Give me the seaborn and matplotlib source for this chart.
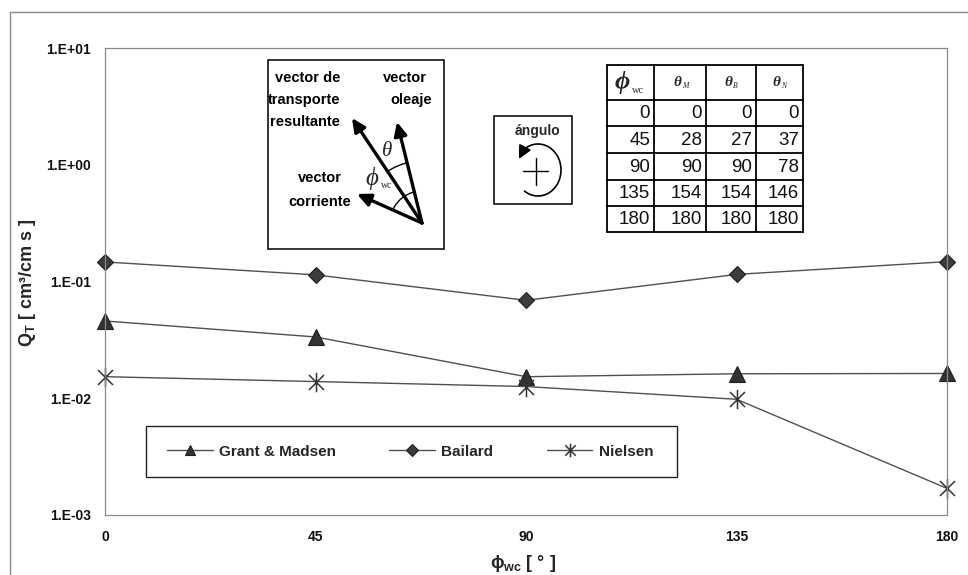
import numpy as np
import matplotlib
matplotlib.use("Agg")
import matplotlib.pyplot as plt
from matplotlib.path import Path
from matplotlib.patches import Rectangle
from matplotlib.ticker import NullLocator
import seaborn as sns

# ---- data -------------------------------------------------------------
phi_wc = [0, 45, 90, 135, 180]
grant_madsen = [0.0459, 0.0335, 0.0153, 0.0162, 0.0163]
bailard = [0.147, 0.114, 0.069, 0.115, 0.148]
nielsen = [0.0153, 0.0139, 0.0126, 0.0098, 0.00169]
series_names = ["Grant & Madsen", "Bailard", "Nielsen"]

x_ticks = [0, 45, 90, 135, 180]
y_ticks = [1e-3, 1e-2, 1e-1, 1e0, 1e1]
y_tick_labels = ["1.E-03", "1.E-02", "1.E-01", "1.E+00", "1.E+01"]

# angle table: phi_wc vs resulting theta for each model
table_phi = [0, 45, 90, 135, 180]
theta_M = [0, 28, 90, 154, 180]
theta_B = [0, 27, 90, 154, 180]
theta_N = [0, 37, 78, 146, 180]

# ---- style ------------------------------------------------------------
W, H = 968, 575
sns.set_style("white")
plt.rcParams["font.family"] = ["Liberation Sans", "DejaVu Sans"]
plt.rcParams["mathtext.fontset"] = "custom"
plt.rcParams["mathtext.rm"] = "Liberation Sans:bold"
plt.rcParams["mathtext.bf"] = "Liberation Sans:bold"
plt.rcParams["mathtext.it"] = "Liberation Sans:italic:bold"

fig = plt.figure(figsize=(W / 100, H / 100), dpi=100)


def rect_frac(x0, y0, x1, y1):
    return [x0 / W, 1 - y1 / H, (x1 - x0) / W, (y1 - y0) / H]


ax = fig.add_axes(rect_frac(105, 48, 947, 515))

# six-armed star marker (X plus a vertical stroke)
star = Path([(-1, -1), (1, 1), (-1, 1), (1, -1), (0, -1.3), (0, 1.3)],
            [Path.MOVETO, Path.LINETO] * 3)

marker_styles = {
    "Grant & Madsen": dict(marker="^", markersize=11, markerfacecolor="#333333",
                           markeredgecolor="#1e1e1e", markeredgewidth=0.8),
    "Bailard": dict(marker="D", markersize=8.5, markerfacecolor="#3c3c3c",
                    markeredgecolor="#1e1e1e", markeredgewidth=0.8),
    "Nielsen": dict(marker=star, markersize=14, markerfacecolor="none",
                    markeredgecolor="#333333", markeredgewidth=1.1),
}

for name, vals in zip(series_names, [grant_madsen, bailard, nielsen]):
    sns.lineplot(x=phi_wc, y=vals, ax=ax, color="#505050", linewidth=1.0,
                 label=name, clip_on=False, **marker_styles[name])

ax.set_yscale("log")
ax.set_xlim(0, 180)
ax.set_ylim(1e-3, 1e1)
ax.set_xticks(x_ticks, labels=[str(v) for v in x_ticks],
              fontsize=10, fontweight="bold")
ax.set_yticks(y_ticks, labels=y_tick_labels, fontsize=10, fontweight="bold")
ax.yaxis.set_minor_locator(NullLocator())
ax.tick_params(axis="both", direction="out", length=3, width=0.8,
               color="#777777", labelcolor="#111111")
ax.tick_params(axis="y", pad=7)
ax.tick_params(axis="x", pad=8)
for sp in ax.spines.values():
    sp.set_color("#8a8a8a")
    sp.set_linewidth(0.9)
ax.set_xlabel("")
ax.set_ylabel("")
handles, labels = ax.get_legend_handles_labels()
if ax.get_legend() is not None:
    ax.get_legend().remove()

# axis titles
fig.text(28 / W, 1 - 283 / H, r"Q$_{\mathrm{T}}$ [ cm³/cm s ]", rotation=90,
         ha="center", va="center", fontsize=13, fontweight="bold")
fig.text(523 / W, 1 - 564 / H, r"ϕ$_{\mathrm{wc}}$ [ ° ]",
         ha="center", va="center", fontsize=13, fontweight="bold")

# ---- overlay in pixel coordinates for annotations ---------------------
ov = fig.add_axes([0, 0, 1, 1], zorder=5)
ov.set_xlim(0, W)
ov.set_ylim(H, 0)
ov.axis("off")
ov.patch.set_alpha(0)

# outer chart border
ov.plot([10, 10, W], [H, 12, 12], color="#8a8a8a", lw=1.0)

# legend box
ov.add_patch(Rectangle((146, 426), 531, 51, facecolor="white",
                       edgecolor="#222222", lw=1.0, zorder=1))
leg = ov.legend(handles, labels, ncol=3, frameon=False, loc="center",
                bbox_to_anchor=(410, 451.5), bbox_transform=ov.transData,
                prop=dict(size=11, weight="bold"), handlelength=3.0,
                handletextpad=0.4, columnspacing=3.5, markerscale=0.7)
leg.set_zorder(6)

# vector diagram
ov.add_patch(Rectangle((268, 60), 176, 189, facecolor="white",
                       edgecolor="#111111", lw=1.2, zorder=1))
origin = (422, 223)
tips = {"res": (352, 118), "ola": (397, 122), "cor": (357, 194)}
for tip in tips.values():
    ov.annotate("", xy=tip, xytext=origin,
                arrowprops=dict(arrowstyle="-|>,head_length=0.8,head_width=0.38",
                                lw=2.4, color="black", shrinkA=0, shrinkB=0))


def angle_of(p):
    return np.degrees(np.arctan2(origin[1] - p[1], p[0] - origin[0]))


def arc(cx, cy, rx, ry, a0, a1, **kw):
    t = np.radians(np.linspace(a0, a1, 60))
    ov.plot(cx + rx * np.cos(t), cy - ry * np.sin(t), **kw)


a_res, a_ola, a_cor = (angle_of(tips[k]) for k in ("res", "ola", "cor"))
arc(*origin, 62, 62, a_ola, a_res, color="black", lw=1.0)
arc(*origin, 32, 32, a_ola, a_cor, color="black", lw=1.0)

txt = dict(fontsize=10.5, fontweight="bold", ha="left", va="center", color="black")
ov.text(275, 78, "vector de", **txt)
ov.text(268, 100, "transporte", **txt)
ov.text(270, 122, "resultante", **txt)
ov.text(383, 78, "vector", **txt)
ov.text(390, 100, "oleaje", **txt)
ov.text(298, 178, "vector", **txt)
ov.text(288, 202, "corriente", **txt)
serif = ["Liberation Serif", "DejaVu Serif"]
ov.text(387, 151, "θ", family=serif, style="italic", fontsize=15,
        ha="center", va="center")
ov.text(372, 178, "ϕ", family=serif, style="italic", fontsize=18,
        ha="center", va="center")
ov.text(381, 185, "wc", family=serif, fontsize=7, ha="left", va="center")

# rotation-sense box
ov.add_patch(Rectangle((494, 116), 78, 88, facecolor="white",
                       edgecolor="#111111", lw=1.2, zorder=1))
ov.text(537, 131, "ángulo", fontsize=10, fontweight="bold",
        ha="center", va="center")
ov.plot([523, 548], [171, 171], color="black", lw=1.0)
ov.plot([535.5, 535.5], [158, 185], color="black", lw=1.0)
cx, cy, rx, ry = 538, 170, 23, 26
arc(cx, cy, rx, ry, -126, 128, color="black", lw=1.2)
t0, t1 = np.radians(128), np.radians(142)
ov.annotate("", xy=(cx + rx * np.cos(t1) - 1, cy - ry * np.sin(t1) + 5),
            xytext=(cx + rx * np.cos(t0), cy - ry * np.sin(t0)),
            arrowprops=dict(arrowstyle="-|>,head_length=0.8,head_width=0.4",
                            lw=1.2, color="black", shrinkA=0, shrinkB=0))

# angle table
col_x = [607, 654, 706, 756, 803]
row_y = [65, 100, 126, 153, 180, 206, 232]
ov.add_patch(Rectangle((col_x[0], row_y[0]), col_x[-1] - col_x[0],
                       row_y[-1] - row_y[0], facecolor="white",
                       edgecolor="none", zorder=1))
for x in col_x:
    ov.plot([x, x], [row_y[0], row_y[-1]], color="black", lw=1.3)
for y in row_y:
    ov.plot([col_x[0], col_x[-1]], [y, y], color="black", lw=1.3)

head_y = (row_y[0] + row_y[1]) / 2
ov.text(622, head_y, "ϕ", family=serif, style="italic", fontweight="bold",
        fontsize=19, ha="center", va="center")
ov.text(632, head_y + 8, "wc", family=serif, fontsize=7.5, ha="left", va="center")
for i, sub in enumerate(["M", "B", "N"]):
    xc = (col_x[i + 1] + col_x[i + 2]) / 2
    ov.text(xc - 3, head_y, "θ", family=serif, style="italic", fontweight="bold",
            fontsize=11, ha="center", va="center")
    ov.text(xc + 2, head_y + 3, sub, family=serif, style="italic",
            fontsize=5.5, ha="left", va="center")

columns = [table_phi, theta_M, theta_B, theta_N]
for r in range(len(table_phi)):
    yc = (row_y[r + 1] + row_y[r + 2]) / 2 + 1
    for c, col in enumerate(columns):
        ov.text(col_x[c + 1] - 4, yc, str(col[r]), fontsize=13.5,
                ha="right", va="center", color="#111111")

fig.savefig("out.png", dpi=100, facecolor="white")
